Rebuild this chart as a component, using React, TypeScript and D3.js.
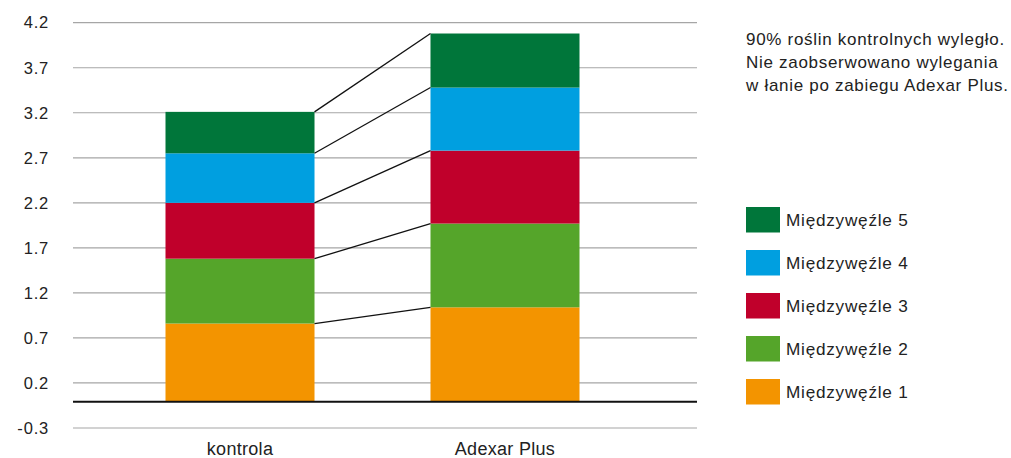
import React from "react";
import * as d3 from "d3";

const categories = ["kontrola", "Adexar Plus"];
const seriesNames = ["Międzywęźle 1", "Międzywęźle 2", "Międzywęźle 3", "Międzywęźle 4", "Międzywęźle 5"];
const seriesColors = ["#f39400", "#55a52a", "#c0002b", "#009fe0", "#00763a"];
const kontrolaValues = [0.86, 0.72, 0.62, 0.55, 0.46];
const adexarValues = [1.04, 0.93, 0.81, 0.70, 0.60];
const yTickValues = [-0.3, 0.2, 0.7, 1.2, 1.7, 2.2, 2.7, 3.2, 3.7, 4.2];
const noteLines = [
  "90% roślin kontrolnych wyległo.",
  "Nie zaobserwowano wylegania",
  "w łanie po zabiegu Adexar Plus.",
];

const W = 1011;
const H = 458;
const FONT = "'Liberation Sans', Arial, Helvetica, sans-serif";

export default function App() {
  const valuesByCat = [kontrolaValues, adexarValues];
  const y = d3.scaleLinear().domain([-0.3, 4.2]).range([428, 22.7]);
  const x = d3.scaleBand<string>().domain(categories).range([165.5, 579.5]).paddingInner(0.4377).paddingOuter(0);
  const bw = x.bandwidth();
  const gridX0 = 73;
  const gridX1 = 697;

  const stacks = valuesByCat.map((vals) => {
    let acc = 0;
    return vals.map((v) => {
      const y0 = acc;
      acc += v;
      return [y0, acc];
    });
  });

  const legendY = d3.scaleBand<string>().domain([...seriesNames].reverse()).range([207, 207 + 43 * 5]);

  return (
    <svg width={W} height={H} style={{ position: "absolute", left: 0, top: 0, background: "#fff" }} fontFamily={FONT}>
      {yTickValues.map((t) => (
        <g key={t}>
          <line x1={gridX0} x2={gridX1} y1={y(t)} y2={y(t)} stroke="#a6a6a6" strokeWidth={1.2} />
          <text x={49} y={y(t)} dy="0.35em" textAnchor="end" fontSize={16.5} letterSpacing={0.8} fill="#222">
            {t.toFixed(1)}
          </text>
        </g>
      ))}
      {categories.map((c, ci) =>
        stacks[ci].map(([a, b], si) => (
          <rect
            key={c + si}
            x={x(c)}
            y={y(b)}
            width={bw}
            height={y(a) - y(b)}
            fill={seriesColors[si]}
          />
        ))
      )}
      {stacks[0].map(([, b], si) => (
        <line
          key={"c" + si}
          x1={(x(categories[0]) as number) + bw}
          y1={y(b)}
          x2={x(categories[1])}
          y2={y(stacks[1][si][1])}
          stroke="#111"
          strokeWidth={1.3}
        />
      ))}
      <line x1={gridX0} x2={gridX1} y1={y(0) + 0.8} y2={y(0) + 0.8} stroke="#111" strokeWidth={2} />
      {categories.map((c) => (
        <text key={c} x={(x(c) as number) + bw / 2} y={455} textAnchor="middle" fontSize={18} letterSpacing={0.3} fill="#222">
          {c}
        </text>
      ))}
      {noteLines.map((l, i) => (
        <text key={i} x={746} y={45 + i * 23} fontSize={17} letterSpacing={0.7} fill="#222">
          {l}
        </text>
      ))}
      {seriesNames.map((s, si) => {
        const yy = legendY(s) as number;
        return (
          <g key={s}>
            <rect x={746} y={yy} width={34} height={25.5} fill={seriesColors[si]} />
            <text x={786} y={yy + 12.75} dy="0.35em" fontSize={17.2} letterSpacing={0.75} fill="#222">
              {s}
            </text>
          </g>
        );
      })}
    </svg>
  );
}
